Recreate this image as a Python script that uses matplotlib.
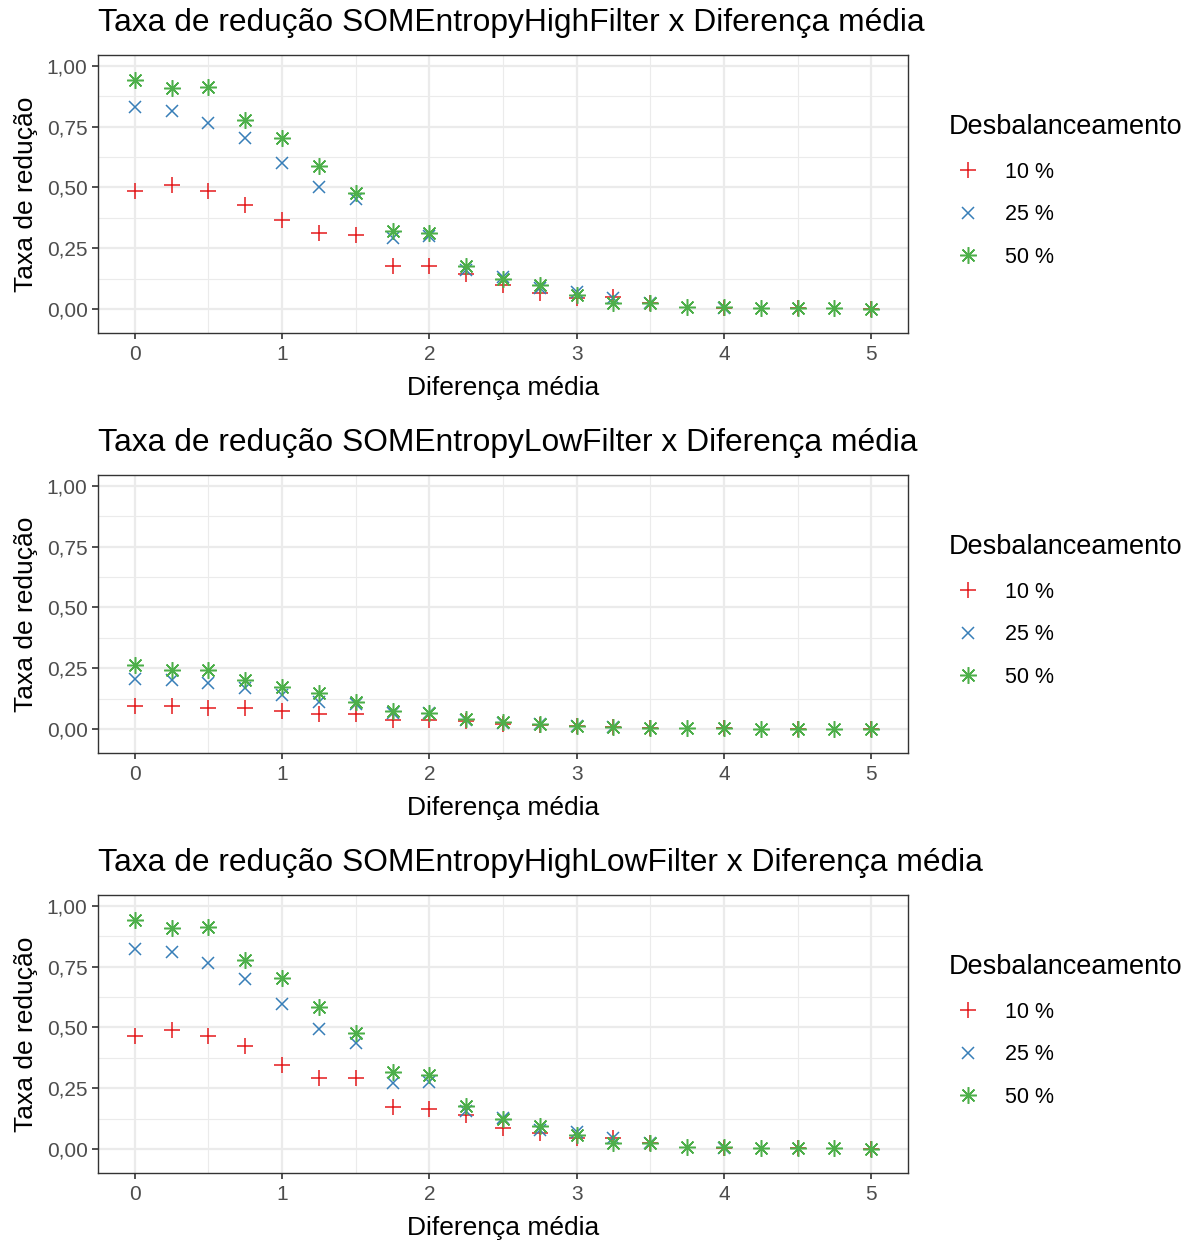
import matplotlib.pyplot as plt
import numpy as np
from matplotlib.ticker import FuncFormatter, MultipleLocator

plt.rcParams['font.family'] = ['Liberation Sans', 'DejaVu Sans']

# x values (diferença média)
x_all = [0, 0.25, 0.5, 0.75, 1, 1.25, 1.5, 1.75, 2, 2.25, 2.5, 2.75, 3, 3.25, 3.5,
         3.75, 4, 4.25, 4.5, 4.75, 5]

titles = ['Taxa de redução SOMEntropyHighFilter x Diferença média',
          'Taxa de redução SOMEntropyLowFilter x Diferença média',
          'Taxa de redução SOMEntropyHighLowFilter x Diferença média']

legend_labels = ['10 %', '25 %', '50 %']

# NaN = point not visible in the reference
nan = np.nan

# panel 1 - HighFilter
high_10 = [0.486, 0.510, 0.486, 0.428, 0.366, 0.311, 0.305, 0.177, 0.177, 0.144, 0.099,
           0.067, 0.044, 0.051, 0.023, nan, 0.005, nan, 0.002, nan, 0.001]
high_25 = [0.829, 0.815, 0.767, 0.702, 0.602, 0.503, 0.451, 0.291, 0.300, 0.160, 0.133,
           0.086, 0.071, 0.045, 0.023, nan, 0.005, nan, nan, nan, nan]
high_50 = [0.942, 0.908, 0.912, 0.776, 0.705, 0.588, 0.479, 0.321, 0.311, 0.178, 0.122,
           0.099, 0.058, 0.023, 0.023, 0.007, 0.007, 0.004, 0.002, 0.002, 0.001]

# panel 2 - LowFilter
low_10 = [0.095, 0.095, 0.088, 0.088, 0.075, 0.062, 0.062, 0.037, 0.035, 0.034, 0.020,
          0.017, 0.012, 0.010, 0.005, nan, 0.002, nan, 0.001, nan, 0.001]
low_25 = [0.204, 0.202, 0.191, 0.170, 0.140, 0.110, 0.101, 0.067, 0.064, 0.038, 0.025,
          0.019, 0.012, 0.009, nan, nan, nan, nan, nan, nan, nan]
low_50 = [0.263, 0.243, 0.243, 0.202, 0.174, 0.147, 0.112, 0.074, 0.067, 0.041, 0.027,
          0.019, 0.012, 0.010, 0.005, 0.003, 0.002, 0.001, 0.001, 0.001, 0.001]

# panel 3 - HighLowFilter
hl_10 = [0.465, 0.490, 0.465, 0.424, 0.346, 0.291, 0.293, 0.172, 0.163, 0.140, 0.088,
         0.067, 0.044, 0.047, 0.023, nan, 0.005, nan, 0.002, nan, 0.001]
hl_25 = [0.822, 0.809, 0.764, 0.698, 0.595, 0.493, 0.438, 0.273, 0.277, 0.156, 0.126,
         0.080, 0.071, 0.045, 0.023, nan, 0.005, nan, nan, nan, nan]
hl_50 = [0.942, 0.908, 0.912, 0.776, 0.702, 0.586, 0.479, 0.318, 0.305, 0.178, 0.122,
         0.096, 0.058, 0.023, 0.023, 0.007, 0.007, 0.004, 0.002, 0.002, 0.001]

panels = [(high_10, high_25, high_50), (low_10, low_25, low_50), (hl_10, hl_25, hl_50)]

colors = ['#E41A1C', '#377EB8', '#4DAF4A']
markers = ['+', 'x', (8, 2, 0)]
msizes = [12, 8.5, 12]

W, H = 1192, 1243
fig = plt.figure(figsize=(W / 100, H / 100), dpi=100)

comma = FuncFormatter(lambda v, p: f'{v:.2f}'.replace('.', ','))

for i, (series, title) in enumerate(zip(panels, titles)):
    top = 55 + 420 * i
    ax = fig.add_axes([98 / W, 1 - (top + 278) / H, 810 / W, 278 / H])
    for ys, c, m, s, lab in zip(series, colors, markers, msizes, legend_labels):
        ax.plot(x_all, ys, linestyle='none', marker=m, color=c, markersize=s,
                markeredgewidth=1.1, label=lab)
    ax.set_xlim(-0.25, 5.25)
    ax.set_ylim(-0.099, 1.045)
    ax.xaxis.set_major_locator(MultipleLocator(1))
    ax.xaxis.set_minor_locator(MultipleLocator(0.5))
    ax.yaxis.set_major_locator(MultipleLocator(0.25))
    ax.yaxis.set_minor_locator(MultipleLocator(0.125))
    ax.yaxis.set_major_formatter(comma)
    ax.grid(True, which='major', color='#EBEBEB', linewidth=1.6)
    ax.grid(True, which='minor', color='#EBEBEB', linewidth=0.8)
    ax.set_axisbelow(True)
    for sp in ax.spines.values():
        sp.set_color('#333333')
        sp.set_linewidth(1.0)
    ax.tick_params(axis='x', pad=5)
    ax.tick_params(which='major', length=4, width=1.2, color='#333333', labelsize=15,
                   labelcolor='#4D4D4D')
    ax.tick_params(which='minor', length=0)
    ax.set_title(title, loc='left', fontsize=22.9, pad=17)
    ax.set_xlabel('Diferença média', fontsize=19, labelpad=8)
    ax.set_ylabel('Taxa de redução', fontsize=19, labelpad=6)
    leg = ax.legend(loc='upper left', bbox_to_anchor=(949 / W, 1 - (top + 59) / H),
                    bbox_transform=fig.transFigure, frameon=False,
                    title='Desbalanceamento', title_fontsize=19.5, fontsize=15.5,
                    labelspacing=1.0, handletextpad=0.8, handlelength=1.8,
                    borderaxespad=0, borderpad=0)
    leg._legend_box.align = 'left'

plt.savefig('out.png', dpi=100)
